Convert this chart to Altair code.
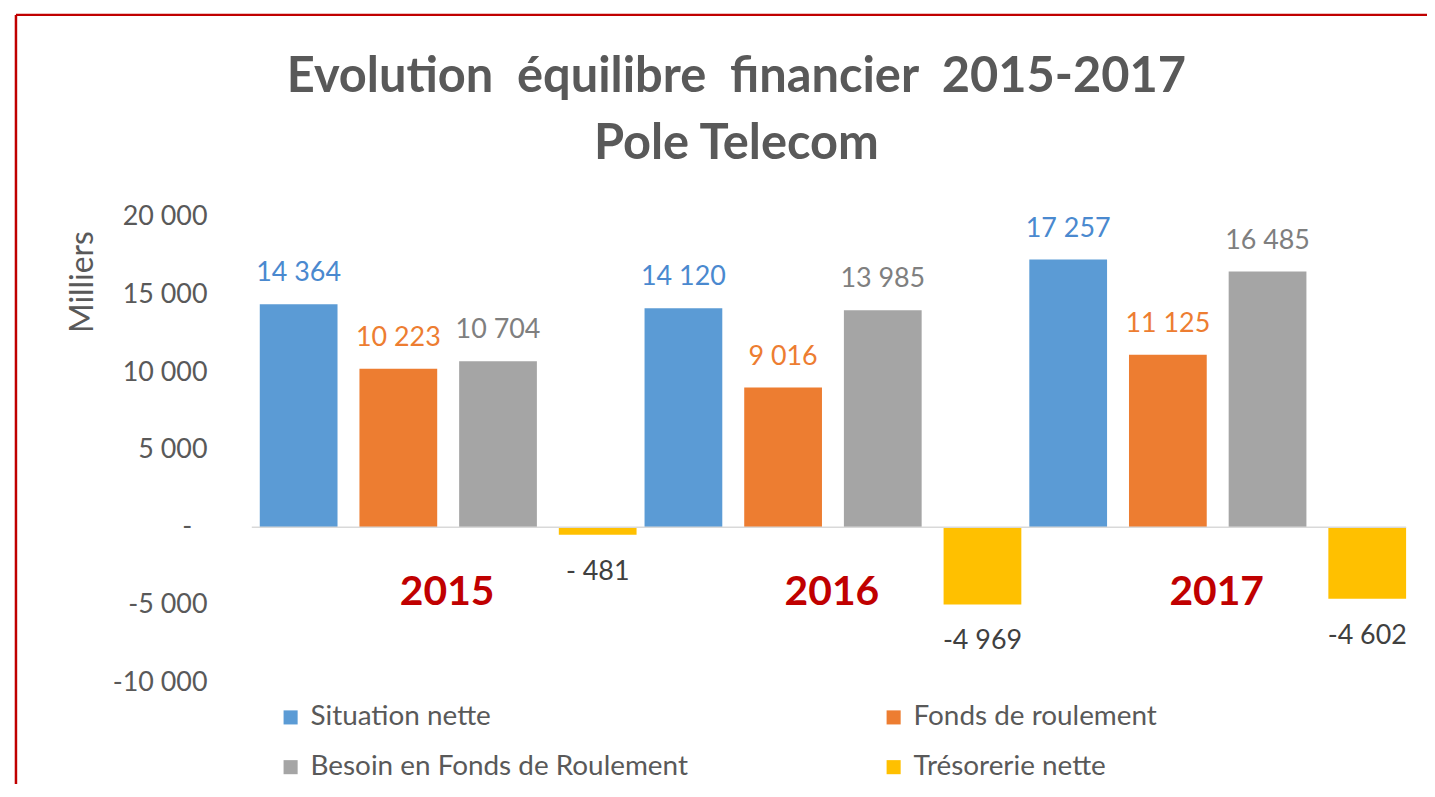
import altair as alt
import pandas as pd

years = ["2015", "2016", "2017"]
series = ["Situation nette", "Fonds de roulement", "Besoin en Fonds de Roulement", "Trésorerie nette"]
colors = ["#5B9BD5", "#ED7D31", "#A5A5A5", "#FFC000"]
label_colors = ["#4A89CF", "#ED7D31", "#7F7F7F", "#404040"]

situation = [14364, 14120, 17257]
fonds = [10223, 9016, 11125]
besoin = [10704, 13985, 16485]
tresorerie = [-481, -4969, -4602]

situation_lbl = ["14 364", "14 120", "17 257"]
fonds_lbl = ["10 223", "9 016", "11 125"]
besoin_lbl = ["10 704", "13 985", "16 485"]
tresorerie_lbl = ["- 481", "-4 969", "-4 602"]

y_ticks = [-10000, -5000, 0, 5000, 10000, 15000, 20000]
title_lines = ["Evolution \u00a0équilibre \u00a0financier \u00a02015-2017", "Pole Telecom"]

rows = []
for s, vals, lbls, lc in zip(series, [situation, fonds, besoin, tresorerie],
                              [situation_lbl, fonds_lbl, besoin_lbl, tresorerie_lbl], label_colors):
    for y, v, l in zip(years, vals, lbls):
        rows.append({"year": y, "series": s, "value": v, "label": l, "lc": lc})
df = pd.DataFrame(rows)

W, H = 1160, 468
FONT = "Lato"
GREY = "#595959"

x_enc = alt.X("year:N", sort=years, scale=alt.Scale(paddingInner=0, paddingOuter=0), axis=None)
xo_enc = alt.XOffset("series:N", sort=series,
                     scale=alt.Scale(paddingInner=0.22, paddingOuter=0.04, align=1))

base = alt.Chart(df)

bars = base.mark_bar().encode(
    x=x_enc,
    xOffset=xo_enc,
    y=alt.Y("value:Q", scale=alt.Scale(domain=[-10000, 20000], nice=False),
            axis=alt.Axis(values=y_ticks, domain=False, ticks=False, grid=False,
                          labelExpr="datum.value == 0 ? '' : replace(replace(format(datum.value, ','), ',', ' '), '\u2212', '-')",
                          labelFontSize=27, labelColor=GREY, labelFont=FONT, labelPadding=45,
                          title="Milliers", titleFont=FONT, titleFontSize=32, titleFontWeight="normal",
                          titleColor=GREY, titleAngle=270, titleX=-170, titleY=65,
                          titleAlign="center", titleBaseline="middle")),
    color=alt.Color("series:N", sort=series, scale=alt.Scale(domain=series, range=colors),
                    legend=alt.Legend(title=None, orient="none", legendX=25, legendY=489,
                                      direction="horizontal", columns=2, columnPadding=192,
                                      rowPadding=22,
                                      symbolType="square", symbolSize=200, symbolStrokeWidth=0,
                                      labelFont=FONT, labelFontSize=28, labelColor=GREY,
                                      labelOffset=6, labelLimit=600)),
)

pos_labels = base.transform_filter("datum.value >= 0").mark_text(
    baseline="alphabetic", dy=-23, font=FONT, fontSize=27
).encode(x=x_enc, xOffset=xo_enc, y="value:Q", text="label:N", color=alt.Color("lc:N", scale=None))

neg_labels = base.transform_filter("datum.value < 0").mark_text(
    baseline="alphabetic", dy=45, font=FONT, fontSize=27
).encode(x=x_enc, xOffset=xo_enc, y="value:Q", text="label:N", color=alt.Color("lc:N", scale=None))

year_df = pd.DataFrame({"year": years})
year_labels = alt.Chart(year_df).mark_text(
    baseline="alphabetic", font=FONT, fontSize=41, fontWeight="bold", color="#C00000", dx=3
).encode(x=x_enc, y=alt.datum(-5000), text="year:N")

one = pd.DataFrame({"a": [0]})
zero_rule = alt.Chart(one).mark_rule(color="#D9D9D9", strokeWidth=1.5).encode(y=alt.datum(0))
zero_tick_label = alt.Chart(one).mark_text(
    text="-", font=FONT, fontSize=27, color=GREY, baseline="middle"
).encode(x=alt.value(-65), y=alt.datum(0))

title1 = alt.Chart(one).mark_text(
    text=title_lines[0], font=FONT, fontSize=49, fontWeight="bold", color=GREY, baseline="alphabetic"
).encode(x=alt.value(487), y=alt.value(-125))
title2 = alt.Chart(one).mark_text(
    text=title_lines[1], font=FONT, fontSize=49, fontWeight="bold", color=GREY, baseline="alphabetic"
).encode(x=alt.value(487), y=alt.value(-58))

border_left = alt.Chart(one).mark_rule(color="#C00000", strokeWidth=2.5).encode(
    x=alt.value(-237), y=alt.value(-203), y2=alt.value(H + 120))
border_top = alt.Chart(one).mark_rule(color="#C00000", strokeWidth=2.5).encode(
    x=alt.value(-237), x2=alt.value(W + 60), y=alt.value(-203))

chart = alt.layer(bars, zero_rule, zero_tick_label, pos_labels, neg_labels, year_labels,
                  title1, title2, border_left, border_top).properties(
    width=W, height=H,
    padding={"left": 245, "top": 208, "right": 21, "bottom": 100},
    autosize=alt.AutoSizeParams(type="none"),
    background="white",
).configure_view(stroke=None)

chart.save("out.html", embed_options={"renderer": "svg", "actions": False})
